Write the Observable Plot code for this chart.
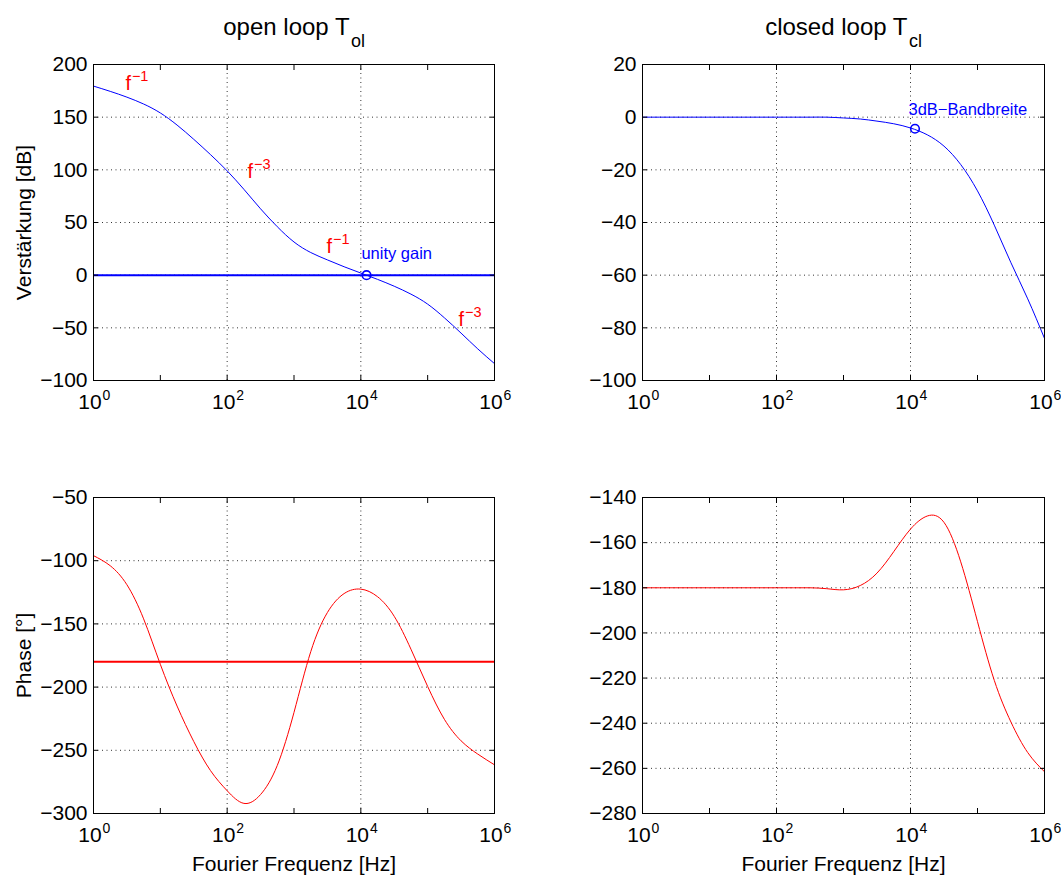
<!DOCTYPE html>
<html><head><meta charset="utf-8">
<script src="https://cdn.jsdelivr.net/npm/d3@7"></script>
<script src="https://cdn.jsdelivr.net/npm/@observablehq/plot@0.6"></script>
<style>
body{margin:0;background:#fff;}
#fig{position:relative;width:1061px;height:877px;overflow:hidden;background:#fff;}
.panel{position:absolute;}
.panel svg{overflow:visible;display:block;}
</style></head><body><div id="fig"></div>
<script>
// ---- data ----
const xTicks = [1, 1e2, 1e4, 1e6];
const xTickBase = "10";
const xTickExp = ["0", "2", "4", "6"];
const xMinorTicks = [1, 10, 100, 1e3, 1e4, 1e5, 1e6];
const xGridTicks = [1, 1e2, 1e4, 1e6];

const freq = [1, 1.78, 3.16, 5.62, 10, 17.8, 31.6, 56.2, 100, 178, 316, 562, 1000,
  1780, 3160, 5620, 1e4, 1.78e4, 3.16e4, 5.62e4, 1e5, 1.78e5, 3.16e5, 5.62e5, 1e6];

const olGain = [179.5, 174.5, 169, 162.5, 154, 142.5, 129, 114.5, 99, 81.5, 63, 46, 31.5,
  21.5, 14.5, 8, 2, -4, -10.5, -18, -27.5, -40.5, -55, -70, -84];
const olPhase = [-96, -104, -119, -146, -182, -215, -243, -266, -282, -292, -285, -262, -220,
  -172, -141, -126, -122.5, -128.5, -144, -170, -199.5, -225.5, -242.5, -253, -261.5];
const clGain = [0, 0, 0, 0, 0, 0, 0, 0, 0, 0, 0, 0, -0.3,
  -0.7, -1.5, -2.5, -4.1, -6.7, -11, -18, -28, -41, -55.3, -69, -84];
const clPhase = [-180, -180, -180, -180, -180, -180, -180, -180, -180, -180, -180, -180.4, -180.9,
  -179, -173.5, -164, -154, -148.2, -151, -168.5, -195, -221, -239.5, -253, -261.5];

const gainRef = [0];
const phaseRef = [-180];

const olGainTicks = [-100, -50, 0, 50, 100, 150, 200];
const clGainTicks = [-100, -80, -60, -40, -20, 0, 20];
const olPhaseTicks = [-300, -250, -200, -150, -100, -50];
const clPhaseTicks = [-280, -260, -240, -220, -200, -180, -160, -140];

const annF = [3.0, 201, 3064, 2.9e5];
const annDb = [176, 91.8, 20.9, -47.8];
const annBase = ["f", "f", "f", "f"];
const annExp = ["\u22121", "\u22123", "\u22121", "\u22123"];

const unityLabel = ["unity gain"];
const unityTextF = [1.02e4], unityTextDb = [14.9];
const unityF = [12170], unityDb = [0];

const bwLabel = ["3dB\u2212Bandbreite"];
const bwTextF = [9330], bwTextDb = [1.0];
const bwF = [11670], bwDb = [-4.4];

const titles = [["open loop T", "ol"], ["closed loop T", "cl"]];
const yLabels = ["Verst\u00e4rkung [dB]", "Phase [\u00b0]"];
const xLabel = "Fourier Frequenz [Hz]";

// ---- drawing ----
const FONT = '"Liberation Sans", Arial, Helvetica, sans-serif';
const BLUE = "#0000ff", RED = "#ff0000";
const pts = (xs, ys) => xs.map((x, i) => ({f: x, v: ys[i]}));

function panel({left, top, width, height, ml, mr, mt, mb, yDomain, yTicks, marks}) {
  const chart = Plot.plot({
    width, height, marginLeft: ml, marginRight: mr, marginTop: mt, marginBottom: mb,
    style: {fontFamily: FONT, background: "transparent", color: "#000", overflow: "visible"},
    x: {type: "log", domain: [1, 1e6], label: null},
    y: {domain: yDomain, label: null},
    marks: [
      Plot.gridX({ticks: xGridTicks, stroke: "#000", strokeOpacity: 0.8, strokeDasharray: "1,3.5"}),
      Plot.gridY({ticks: yTicks, stroke: "#000", strokeOpacity: 0.8, strokeDasharray: "1,3.5"}),
      ...marks,
      Plot.axisX({anchor: "bottom", ticks: xMinorTicks, tickSize: -5, tickFormat: () => "", label: null}),
      Plot.axisX({anchor: "top", ticks: xMinorTicks, tickSize: -5, tickFormat: () => "", label: null}),
      Plot.axisY({anchor: "left", ticks: yTicks, tickSize: -5, tickFormat: () => "", label: null}),
      Plot.axisY({anchor: "right", ticks: yTicks, tickSize: -5, tickFormat: () => "", label: null}),
      Plot.axisX({anchor: "bottom", ticks: xTicks, tickSize: 0, tickPadding: 14, fontSize: 21, dx: -3.5,
        tickFormat: () => xTickBase, label: null}),
      Plot.axisX({anchor: "bottom", ticks: xTicks, tickSize: 0, tickPadding: 10, fontSize: 14, dx: 13,
        tickFormat: d => xTickExp[xTicks.indexOf(d)], label: null}),
      Plot.axisY({anchor: "left", ticks: yTicks, tickSize: 0, tickPadding: 6, fontSize: 21, label: null}),
      Plot.frame({stroke: "#000", strokeWidth: 1})
    ]
  });
  const div = document.createElement("div");
  div.className = "panel";
  div.style.left = left + "px";
  div.style.top = top + "px";
  div.appendChild(chart);
  document.getElementById("fig").appendChild(div);
}

function titleMarks([main, sub], dx) {
  return [
    Plot.text([main], {frameAnchor: "top", textAnchor: "end", lineAnchor: "bottom", dx: dx, dy: -30, fontSize: 24, fill: "#000"}),
    Plot.text([sub], {frameAnchor: "top", textAnchor: "start", lineAnchor: "bottom", dx: dx + 1.5, dy: -18, fontSize: 18, fill: "#000"})
  ];
}
const yLabelMark = s => Plot.text([s], {frameAnchor: "left", rotate: -90, textAnchor: "middle", lineAnchor: "bottom", dx: -63, fontSize: 21, fill: "#000"});
const xLabelMark = s => Plot.text([s], {frameAnchor: "bottom", lineAnchor: "bottom", dy: 57, fontSize: 21, fill: "#000"});

// top-left: open loop gain
panel({left: 0, top: 0, width: 530, height: 420, ml: 93, mr: 36, mt: 64, mb: 40,
  yDomain: [-100, 200], yTicks: olGainTicks,
  marks: [
    Plot.ruleY(gainRef, {stroke: BLUE, strokeWidth: 2}),
    Plot.line(pts(freq, olGain), {x: "f", y: "v", stroke: BLUE, strokeWidth: 1, curve: "natural"}),
    Plot.text(annExp, {x: annF, y: annDb, text: annBase, textAnchor: "start", lineAnchor: "bottom", fill: RED, fontSize: 20}),
    Plot.text(annExp, {x: annF, y: annDb, textAnchor: "start", lineAnchor: "bottom", dx: 6.5, dy: -9, fill: RED, fontSize: 14.5}),
    Plot.text(unityLabel, {x: unityTextF, y: unityTextDb, textAnchor: "start", lineAnchor: "bottom", fill: BLUE, fontSize: 16.5}),
    Plot.dot(unityLabel, {x: unityF, y: unityDb, r: 4.3, stroke: BLUE, strokeWidth: 1.6, fill: "none"}),
    ...titleMarks(titles[0], 55.6),
    yLabelMark(yLabels[0])
  ]});

// top-right: closed loop gain
panel({left: 530, top: 0, width: 531, height: 420, ml: 112, mr: 17, mt: 64, mb: 40,
  yDomain: [-100, 20], yTicks: clGainTicks,
  marks: [
    Plot.line(pts(freq, clGain), {x: "f", y: "v", stroke: BLUE, strokeWidth: 1, curve: "natural"}),
    Plot.text(bwLabel, {x: bwTextF, y: bwTextDb, textAnchor: "start", lineAnchor: "bottom", fill: BLUE, fontSize: 16.5}),
    Plot.dot(bwLabel, {x: bwF, y: bwDb, r: 4.3, stroke: BLUE, strokeWidth: 1.6, fill: "none"}),
    ...titleMarks(titles[1], 64)
  ]});

// bottom-left: open loop phase
panel({left: 0, top: 420, width: 530, height: 457, ml: 93, mr: 36, mt: 77, mb: 64,
  yDomain: [-300, -50], yTicks: olPhaseTicks,
  marks: [
    Plot.ruleY(phaseRef, {stroke: RED, strokeWidth: 2}),
    Plot.line(pts(freq, olPhase), {x: "f", y: "v", stroke: RED, strokeWidth: 1, curve: "natural"}),
    yLabelMark(yLabels[1]),
    xLabelMark(xLabel)
  ]});

// bottom-right: closed loop phase
panel({left: 530, top: 420, width: 531, height: 457, ml: 112, mr: 17, mt: 77, mb: 64,
  yDomain: [-280, -140], yTicks: clPhaseTicks,
  marks: [
    Plot.line(pts(freq, clPhase), {x: "f", y: "v", stroke: RED, strokeWidth: 1, curve: "natural"}),
    xLabelMark(xLabel)
  ]});
</script></body></html>
